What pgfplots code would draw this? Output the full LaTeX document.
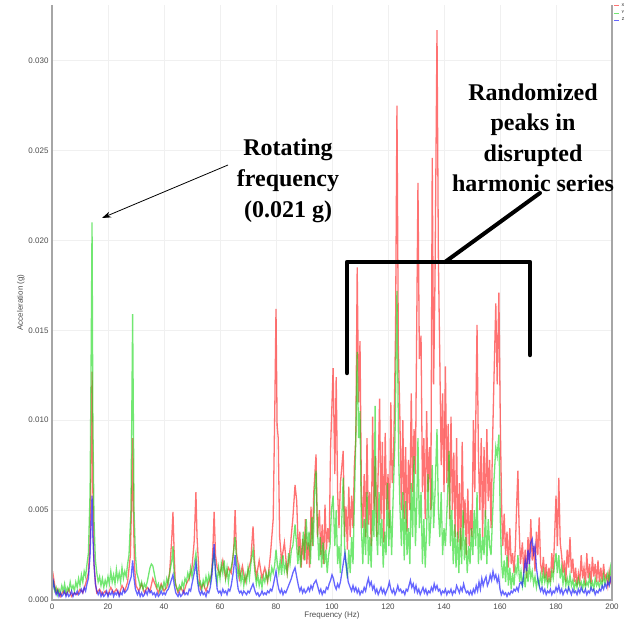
\documentclass[border=0pt]{standalone}
\usepackage{fontspec}
\setmainfont{Liberation Serif}
\newfontfamily\sansf{Liberation Sans}
\usepackage{pgfplots}
\pgfplotsset{compat=1.18}
\usetikzlibrary{arrows.meta}

\definecolor{sigx}{RGB}{255,20,20}
\definecolor{sigy}{RGB}{20,215,20}
\definecolor{sigz}{RGB}{20,20,255}

\begin{document}
\begin{tikzpicture}
\useasboundingbox (-52pt,-24pt) rectangle (577pt,600pt);
\begin{axis}[
  scale only axis, width=560pt, height=595pt,
  xmin=0, xmax=200, ymin=0, ymax=33.1,
  xtick={0,20,...,200}, ytick={0,5,...,30},
  yticklabels={0.000,0.005,0.010,0.015,0.020,0.025,0.030},
  grid=major, grid style={gray!12, line width=0.6pt},
  axis line style={draw=none},
  major tick length=0pt,
  tick label style={font=\sansf\fontsize{8}{9}\selectfont, text=gray!60!black},
  /pgf/number format/assume math mode=true,
  label style={font=\sansf\fontsize{8}{9}\selectfont, text=gray!60!black},
  xlabel={Frequency (Hz)}, ylabel={Acceleration (g)},
  xlabel style={yshift=4pt}, ylabel style={yshift=-3pt},
  clip=false,
  legend style={at={(rel axis cs:1,1)}, anchor=north west, draw=none, fill=none,
    font=\sansf\fontsize{4}{4}\selectfont, inner sep=0.5pt, row sep=-1pt, xshift=1pt, yshift=4pt},
  legend image code/.code={\draw[#1, line width=1pt] (0pt,0pt) -- (5pt,0pt);},
]
\addplot[sigx, opacity=0.6, line width=1.3pt] coordinates {
(0,0.3)(0.5,1.3)(1,0.8)(1.5,0.4)(2,0.6)(3,0.2)(4,0.5)(5,0.3)(6,0.6)(7,0.2)(8,0.4)(9,0.3)(10,0.6)(11,0.4)(12,0.9)(13,1.5)(13.6,3.3)(14,8)(14.3,12.7)(14.6,6)(15,2)(15.6,0.8)(16,0.4)(17,0.6)(18,0.3)(19,0.5)(20,0.3)(21,0.7)(22,0.4)(23,0.6)(24,0.3)(25,0.8)(26,0.5)(27,1.0)(28,2.5)(28.5,6)(28.8,9)(29.1,4.5)(29.5,1.8)(30,0.8)
(31,0.5)(32,0.9)(33,0.4)(34,0.7)(35,0.5)(36,1.2)(37,0.8)(38,0.4)(39,0.9)(40,0.5)(41,0.7)(42,1.5)(42.8,3.5)(43.2,4.9)(43.6,2.8)(44,1.0)(45,0.4)(46,0.7)(47,0.4)(48,0.9)(49,1.2)(50,1.8)(50.8,3.3)(51.4,6.0)(51.8,3.5)(52.5,1.5)(53,0.6)(54,0.9)(55,0.5)(56,1.0)(57,1.4)(57.5,3)(57.9,4.9)(58.4,2.5)(59,1.8)(60,1.4)
(61,2.2)(62,1.2)(63,1.8)(64,1.5)(64.9,2.8)(65.4,5.0)(65.9,2.6)(66.5,2.0)(67,1.2)(68,1.9)(69,1.0)(70,1.6)(71,2.2)(71.8,4.1)(72.4,2.0)(73,1.3)(74,2.2)(75,1.2)(76,1.8)(77,1.0)(78,2.5)(79,4.5)(79.6,11)(80,16.2)(80.4,9.7)(80.8,9)(81.3,3.5)(82,2.2)(83,3.2)(84,1.5)(85,2.8)(86,4.5)(86.8,6.4)(87.4,5.5)(88,2.5)(88.5,3.8)(89,1.8)(89.5,3.4)(90,2.2)
(90.5,4.5)(91,2.0)(91.5,3.2)(92,1.8)(92.5,5.2)(93,3.0)(93.5,6.0)(94.3,8.1)(94.8,3.5)(95.5,5.0)(96,2.5)(96.5,4.2)(97,2.0)(97.5,5.3)(98,2.8)(98.5,4.0)(99,3.2)(99.5,8.5)(100.4,12.9)(101,7)(101.5,12.4)(102,6)(102.5,4)(103,6.5)(104,8.3)(104.5,3.5)(105,5.2)(105.5,2.8)(106,6.3)(106.5,3.5)(107,5.8)(107.5,4.0)(108,7.5)(108.5,9)(109,18.5)(109.5,11)(110,14.4)(110.5,6)
(111,4.0)(111.5,7.0)(112,3.5)(112.5,9.0)(113,4.2)(113.5,6.0)(114,3.0)(114.5,10.2)(115,5.0)(115.5,8.0)(116,3.5)(116.5,7.2)(117,11.2)(117.5,4.5)(118,8.8)(118.5,3.2)(119,9.3)(119.5,5.0)(120,7.0)(120.5,4.0)(121,11.0)(121.5,6.5)(122,8.0)(122.7,15)(123.2,27.5)(123.7,14)(124.2,10.5)(124.8,5.0)(125.3,10.0)(125.8,4.5)(126.3,8.5)(126.8,3.8)(127.3,7.8)(127.8,5.0)(128.3,11.5)(128.8,6.0)(129.3,9.5)(129.8,7.0)(130.3,16)(130.7,23.2)
(131.2,13.4)(131.8,14.7)(132.3,6)(132.8,9.0)(133.3,4.5)(133.8,10.5)(134.3,6.0)(134.8,8.5)(135.3,5.0)(135.8,24.6)(136.3,12)(136.8,18)(137.5,31.7)(138,19)(138.5,13.4)(139,7.5)(139.5,11.5)(140,6.0)(140.5,13.0)(141,6.5)(141.5,9.8)(142,4.5)(142.5,10.2)(143,5.0)(143.5,8.2)(144,3.5)(144.5,9.0)(145,3.2)(145.5,6.5)(146,2.8)(146.5,8.8)(147,4.0)(147.5,5.6)(148,2.5)(148.5,6.2)(149,3.0)(149.5,5.0)(150,3.5)
(150.5,10.0)(151,6)(151.8,15.3)(152.3,8)(152.8,5.0)(153.3,9.0)(153.8,3.5)(154.3,8.5)(154.8,4.5)(155.3,9.5)(155.8,5.5)(156.3,7.8)(156.8,4.0)(157.3,8.5)(157.8,12)(158.5,16.5)(159,12)(159.6,17.1)(160.1,10)(160.6,5.0)(161,3.0)(161.5,4.8)(162,2.5)(162.5,3.8)(163,1.8)(163.5,4.0)(164,2.0)(164.5,2.6)(165,1.5)(165.5,3.0)(166,5.5)(166.4,7.2)(166.8,4.2)(167.3,2.0)(168,3.2)(168.5,1.5)(169,2.8)(169.5,1.2)(170,3.5)
(170.5,2.0)(171,4.5)(171.5,2.2)(172,3.0)(172.5,1.6)(173,3.8)(173.5,2.5)(174,4.6)(174.5,2.0)(175,1.5)(175.5,2.4)(176,1.2)(176.5,2.0)(177,1.0)(177.5,1.8)(178,1.0)(178.5,2.6)(179,1.5)(179.5,3.5)(180,5.8)(180.5,3.0)(181,6.8)(181.5,3.2)(182,2.5)(182.5,1.5)(183,2.2)(183.5,1.0)(184,2.8)(184.5,1.8)(185,3.5)(185.5,1.5)(186,2.3)(186.5,1.0)(187,1.8)(187.5,0.8)(188,1.5)(188.5,1.0)(189,2.5)(189.5,1.2)(190,1.8)
(190.5,0.8)(191,2.6)(191.5,1.2)(192,2.0)(192.5,0.9)(193,2.4)(193.5,1.3)(194,2.0)(194.5,1.0)(195,2.2)(195.5,1.0)(196,1.8)(196.5,1.0)(197,2.0)(197.5,1.2)(198,1.4)(198.5,0.8)(199,1.6)(199.5,1.0)(200,1.2)
};
\addlegendentry{X}
\addplot[sigy, opacity=0.6, line width=1.3pt] coordinates {
(0,0.8)(0.5,1.0)(1,0.5)(1.5,0.7)(2,0.3)(2.5,0.6)(3,0.4)(3.5,0.8)(4,0.5)(4.5,0.9)(5,0.4)(5.5,0.7)(6,0.5)(6.5,1.0)(7,0.6)(7.5,0.8)(8,0.5)(8.5,1.0)(9,0.7)(9.5,1.2)(10,0.8)(10.5,1.4)(11,1.0)(11.5,1.6)(12,1.3)(12.5,2.0)(13,2.6)(13.6,6)(14,14)(14.3,21.0)(14.6,10)(15,4.5)(15.5,2.2)(16,1.5)(16.5,1.0)(17,1.3)(17.5,0.8)(18,1.2)(18.5,0.7)(19,1.1)(19.5,0.8)(20,1.3)
(20.5,0.9)(21,1.6)(21.5,1.0)(22,1.4)(22.5,0.9)(23,1.7)(23.5,1.1)(24,1.5)(24.5,1.0)(25,1.8)(25.5,1.2)(26,1.6)(26.5,1.3)(27,2.0)(27.5,2.5)(28.2,5)(28.8,15.9)(29.3,5)(29.8,2.5)(30.3,1.5)(31,1.1)(31.5,0.7)(32,1.0)(32.5,0.6)(33,0.9)(33.5,0.7)(34,1.0)(34.5,1.4)(35,1.8)(35.5,2.0)(36,1.9)(36.5,1.5)(37,1.1)(37.5,0.7)(38,0.9)(38.5,0.5)(39,0.8)(39.5,0.6)(40,1.0)
(40.5,0.7)(41,1.2)(41.5,0.9)(42,1.5)(42.8,2.2)(43.2,3.0)(43.6,1.5)(44.2,0.8)(45,0.5)(45.5,0.8)(46,0.6)(46.5,1.0)(47,0.7)(47.5,1.2)(48,1.0)(48.5,1.5)(49,1.2)(49.5,1.8)(50,1.3)(50.8,2.0)(51.4,2.6)(52,1.2)(52.5,0.8)(53,1.0)(53.5,0.6)(54,1.1)(54.5,0.8)(55,1.3)(55.5,0.9)(56,1.4)(56.5,1.0)(57,1.6)(57.9,2.6)(58.5,1.5)(59,1.0)(59.5,1.8)(60,1.2)
(60.5,2.0)(61,1.5)(61.5,2.2)(62,1.2)(62.5,1.8)(63,1.0)(63.5,1.6)(64,1.8)(64.5,2.2)(65.4,3.5)(66,2.0)(66.5,1.3)(67,1.8)(67.5,1.0)(68,1.5)(68.5,0.8)(69,1.4)(69.5,1.0)(70,1.8)(70.5,1.2)(71,2.0)(71.8,2.8)(72.5,1.5)(73,0.9)(73.5,1.4)(74,0.8)(74.5,1.2)(75,0.7)(75.5,1.3)(76,1.0)(76.5,1.5)(77,1.1)(77.5,1.6)(78,1.2)(78.5,1.8)(79,1.5)(79.5,1.9)(80,2.8)
(80.5,2.0)(81,1.5)(81.5,2.2)(82,1.4)(82.5,2.5)(83,1.6)(83.5,2.0)(84,1.5)(84.5,2.6)(85,2.0)(85.5,2.8)(86,3.0)(86.8,4.2)(87.3,3.2)(87.8,2.0)(88.3,3.0)(88.8,1.8)(89.3,2.8)(89.8,3.8)(90.3,2.2)(90.8,4.5)(91.3,2.8)(91.8,3.8)(92.3,2.0)(92.8,4.6)(93.3,3.0)(93.8,6.0)(94.3,7.2)(94.8,4.0)(95.3,2.2)(95.8,3.5)(96.3,1.8)(96.8,3.2)(97.3,2.0)(97.8,2.8)(98.3,1.5)(98.8,2.5)(99.3,3.0)(99.8,5.0)(100.4,5.8)
(101,3.0)(101.5,5.0)(102,2.0)(102.5,3.0)(103,1.5)(103.5,4.5)(104,6.8)(104.5,3.0)(105,2.0)(105.5,1.2)(106,2.8)(106.5,1.5)(107,3.5)(107.5,2.0)(108,5.5)(108.5,9.0)(109,13.8)(109.5,9.0)(110,10.5)(110.5,4.0)(111,2.0)(111.5,4.5)(112,2.5)(112.5,6.0)(113,2.0)(113.5,3.5)(114,1.8)(114.5,5.0)(115,3.5)(115.4,10.8)(115.8,4.0)(116.3,2.5)(116.8,6.0)(117.3,3.0)(117.8,4.5)(118.3,1.8)(118.8,3.8)(119.3,2.5)(119.8,6.5)(120.3,3.0)
(120.8,5.0)(121.3,2.5)(121.8,5.5)(122.5,9.0)(123.2,17.2)(123.8,8.0)(124.3,5.0)(124.8,3.0)(125.3,6.0)(125.8,2.2)(126.3,5.5)(126.8,2.5)(127.3,4.0)(127.8,2.0)(128.3,6.5)(128.8,3.5)(129.3,8.0)(129.8,3.0)(130.3,5.5)(130.7,9.0)(131.2,4.0)(131.8,6.0)(132.3,2.0)(132.8,4.5)(133.3,1.8)(133.8,4.0)(134.3,7.0)(134.8,3.0)(135.3,4.5)(135.8,7.5)(136.3,4.0)(136.8,6.0)(137.5,9.5)(138,5.0)(138.5,3.5)(139,6.0)(139.5,2.5)(140,4.0)
(140.5,3.0)(141.2,5.5)(141.8,8.3)(142.3,3.0)(142.8,5.0)(143.3,2.0)(143.8,4.2)(144.3,1.8)(144.8,3.8)(145.3,1.5)(145.8,4.0)(146.3,2.0)(146.8,5.0)(147.3,2.2)(147.8,3.5)(148.3,1.5)(148.8,3.0)(149.3,2.0)(149.8,4.0)(150.3,2.5)(150.8,5.0)(151.3,3.0)(151.8,6.0)(152.3,2.0)(152.8,4.0)(153.3,2.2)(153.8,3.5)(154.3,2.5)(154.8,5.0)(155.3,2.0)(155.8,4.5)(156.3,3.0)(156.8,2.5)(157.3,4.5)(157.8,6.5)(158.5,8.5)(159,8.0)(159.6,9.2)(160.1,4.5)(160.6,2.0)
(161,1.2)(161.5,2.2)(162,1.0)(162.5,2.5)(163,0.8)(163.5,1.8)(164,0.6)(164.5,1.5)(165,0.8)(165.5,1.8)(166,1.5)(166.4,2.5)(167,1.0)(167.5,1.6)(168,0.8)(168.5,1.4)(169,0.7)(169.5,1.8)(170,1.0)(170.5,2.0)(171,1.2)(171.5,1.6)(172,0.9)(172.5,1.3)(173,0.7)(173.5,1.2)(174,0.8)(174.5,1.4)(175,0.9)(175.5,1.6)(176,1.0)(176.5,1.4)(177,0.8)(177.5,1.2)(178,0.9)(178.5,1.6)(179,1.2)(179.5,2.0)(180,2.6)(180.5,1.5)
(181,2.5)(181.5,1.2)(182,1.8)(182.5,0.9)(183,1.5)(183.5,0.8)(184,1.2)(184.5,0.7)(185,1.4)(185.5,0.8)(186,1.1)(186.5,0.6)(187,1.0)(187.5,0.7)(188,1.2)(188.5,0.8)(189,1.0)(189.5,0.6)(190,1.1)(190.5,0.7)(191,1.0)(191.5,0.8)(192,1.3)(192.5,0.7)(193,1.0)(193.5,0.6)(194,1.2)(194.5,0.8)(195,1.0)(195.5,0.7)(196,1.1)(196.5,0.8)(197,1.4)(197.5,0.9)(198,1.2)(198.5,1.5)(199,1.0)(199.5,1.8)(200,1.2)
};
\addlegendentry{Y}
\addplot[sigz, opacity=0.65, line width=1.3pt] coordinates {
(0,0.4)(0.5,1.0)(1,0.6)(1.5,0.3)(2,0.5)(2.5,0.2)(3,0.4)(3.5,0.2)(4,0.3)(4.5,0.5)(5,0.2)(5.5,0.4)(6,0.2)(6.5,0.3)(7,0.5)(7.5,0.2)(8,0.4)(8.5,0.3)(9,0.5)(9.5,0.3)(10,0.4)(10.5,0.6)(11,0.4)(11.5,0.7)(12,0.5)(12.5,0.9)(13,1.2)(13.6,2.5)(14,4.5)(14.3,5.8)(14.6,3.5)(15,2.0)(15.5,0.9)(16,0.5)(16.5,0.3)(17,0.5)(17.5,0.2)(18,0.4)(18.5,0.2)(19,0.3)(19.5,0.5)(20,0.2)
(20.5,0.4)(21,0.3)(21.5,0.5)(22,0.2)(22.5,0.4)(23,0.3)(23.5,0.5)(24,0.2)(24.5,0.4)(25,0.3)(25.5,0.6)(26,0.4)(26.5,0.5)(27,0.6)(27.5,0.9)(28.3,1.3)(28.8,2.2)(29.3,1.2)(29.8,0.6)(30.5,0.3)(31,0.5)(31.5,0.2)(32,0.4)(32.5,0.2)(33,0.3)(33.5,0.5)(34,0.3)(34.5,0.6)(35,0.4)(35.5,0.5)(36,0.3)(36.5,0.4)(37,0.2)(37.5,0.4)(38,0.2)(38.5,0.3)(39,0.5)(39.5,0.3)(40,0.4)
(40.5,0.3)(41,0.5)(41.5,0.6)(42,0.8)(42.8,1.2)(43.2,1.4)(43.7,0.8)(44.2,0.4)(45,0.2)(45.5,0.4)(46,0.2)(46.5,0.3)(47,0.5)(47.5,0.3)(48,0.4)(48.5,0.3)(49,0.6)(49.5,0.5)(50,0.9)(50.8,1.5)(51.4,2.1)(52,1.0)(52.5,0.5)(53,0.3)(53.5,0.5)(54,0.3)(54.5,0.4)(55,0.2)(55.5,0.5)(56,0.4)(56.5,0.7)(57,1.2)(57.5,2.2)(57.9,3.1)(58.4,1.5)(59,0.6)(59.5,0.4)(60,0.5)
(60.5,0.3)(61,0.6)(61.5,0.4)(62,0.5)(62.5,0.3)(63,0.6)(63.5,0.5)(64,0.8)(64.8,1.6)(65.4,2.5)(66,1.2)(66.5,0.6)(67,0.4)(67.5,0.5)(68,0.3)(68.5,0.5)(69,0.4)(69.5,0.3)(70,0.5)(70.5,0.4)(71,0.6)(71.8,0.9)(72.5,0.5)(73,0.3)(73.5,0.4)(74,0.2)(74.5,0.3)(75,0.5)(75.5,0.3)(76,0.4)(76.5,0.3)(77,0.5)(77.5,0.4)(78,0.6)(78.5,0.5)(79,0.8)(79.5,1.2)(80,1.6)
(80.5,1.0)(81,0.6)(81.5,0.4)(82,0.6)(82.5,0.3)(83,0.5)(83.5,0.4)(84,0.6)(84.5,0.8)(85,1.0)(85.5,1.2)(86,1.5)(86.8,1.8)(87.5,1.2)(88,0.8)(88.5,0.5)(89,0.7)(89.5,0.4)(90,0.6)(90.5,0.4)(91,0.5)(91.5,0.7)(92,0.5)(92.5,0.8)(93,0.6)(93.5,0.9)(94.3,1.1)(95,0.7)(95.5,0.4)(96,0.6)(96.5,0.3)(97,0.5)(97.5,0.4)(98,0.7)(98.5,0.6)(99,0.9)(99.5,1.1)(100,1.4)
(100.5,1.2)(101,0.8)(101.5,0.6)(102,0.9)(102.5,0.7)(103,1.0)(103.5,1.5)(104,2.0)(104.6,2.6)(105.2,1.8)(105.8,1.0)(106.5,0.7)(107,0.5)(107.5,0.8)(108,0.5)(108.5,0.7)(109,0.4)(109.5,0.6)(110,0.3)(110.5,0.5)(111,0.4)(111.5,0.7)(112,0.5)(112.5,0.9)(113,1.2)(113.5,0.8)(114,1.0)(114.5,0.6)(115,0.8)(115.5,0.4)(116,0.6)(116.5,0.3)(117,0.5)(117.5,0.7)(118,0.4)(118.5,0.6)(119,0.3)(119.5,0.5)(120,0.7)
(120.5,1.0)(121,0.6)(121.5,0.4)(122,0.6)(122.5,0.3)(123,0.5)(123.5,0.8)(124,0.5)(124.5,0.6)(125,0.4)(125.5,0.5)(126,0.3)(126.5,0.6)(127,0.5)(127.5,0.8)(128,1.1)(128.5,0.7)(129,0.9)(129.5,0.5)(130,0.8)(130.5,0.4)(131,0.6)(131.5,0.3)(132,0.5)(132.5,0.7)(133,0.4)(133.5,0.6)(134,0.3)(134.5,0.5)(135,0.4)(135.5,0.7)(136,0.5)(136.5,0.9)(137,0.6)(137.5,0.8)(138,0.5)(138.5,0.6)(139,0.3)(139.5,0.5)(140,0.4)
(140.5,0.6)(141,0.3)(141.5,0.5)(142,0.4)(142.5,0.6)(143,0.3)(143.5,0.5)(144,0.4)(144.5,0.8)(145,0.6)(145.5,0.4)(146,0.7)(146.5,0.5)(147,0.9)(147.5,0.6)(148,0.4)(148.5,0.5)(149,0.3)(149.5,0.5)(150,0.3)(150.5,0.6)(151,0.4)(151.5,0.8)(152,0.5)(152.5,1.0)(153,0.6)(153.5,1.2)(154,0.8)(154.5,1.1)(155,1.3)(155.5,0.8)(156,1.0)(156.5,1.4)(157,1.1)(157.5,1.6)(158,1.2)(158.5,1.4)(159,1.0)(159.5,1.3)(160,0.6)
(160.5,0.3)(161,0.5)(161.5,0.3)(162,0.4)(162.5,0.2)(163,0.4)(163.5,0.3)(164,0.5)(164.5,0.4)(165,0.6)(165.5,0.5)(166,0.7)(166.5,0.5)(167,0.9)(167.5,1.0)(168,0.8)(168.5,1.5)(169,2.2)(169.5,1.6)(170,2.8)(170.5,2.0)(171,3.2)(171.5,3.4)(172,2.6)(172.5,3.0)(173,1.8)(173.5,1.2)(174,0.8)(174.5,0.5)(175,0.7)(175.5,0.4)(176,0.6)(176.5,0.3)(177,0.5)(177.5,0.4)(178,0.6)(178.5,0.3)(179,0.5)(179.5,0.4)(180,0.7)
(180.5,0.5)(181,0.8)(181.5,0.4)(182,0.6)(182.5,0.3)(183,0.5)(183.5,0.6)(184,0.4)(184.5,0.7)(185,0.5)(185.5,0.3)(186,0.6)(186.5,0.4)(187,0.5)(187.5,0.3)(188,0.6)(188.5,0.4)(189,0.7)(189.5,0.5)(190,0.4)(190.5,0.6)(191,0.3)(191.5,0.5)(192,0.4)(192.5,0.7)(193,0.5)(193.5,0.6)(194,0.3)(194.5,0.5)(195,0.4)(195.5,0.6)(196,0.5)(196.5,0.8)(197,0.6)(197.5,0.9)(198,0.7)(198.5,1.0)(199,0.8)(199.5,1.2)(200,0.9)
};
\addlegendentry{Z}
% axis frame: left, bottom and right only
\draw[gray!70, line width=1.3pt] (rel axis cs:0,1) -- (rel axis cs:0,0) -- (rel axis cs:1,0) -- (rel axis cs:1,1);
\end{axis}

% annotations
\node[font=\bfseries\fontsize{24}{31}\selectfont, align=center] at (236pt,419pt) {Rotating\\frequency\\(0.021 g)};
\draw[-{Stealth[length=9pt,width=6pt]}, line width=0.8pt] (176pt,435pt) -- (50pt,382pt);
\node[font=\bfseries\fontsize{24}{30.5}\selectfont, align=center] at (481pt,462pt) {Randomized\\peaks in\\disrupted\\harmonic series};
\draw[line width=4.5pt, line join=round, line cap=round] (295pt,227pt) -- (295pt,338pt) -- (478pt,338pt) -- (478pt,245pt);
\draw[line width=4pt, line cap=round] (393pt,338pt) -- (488pt,407pt);
\end{tikzpicture}
\end{document}
